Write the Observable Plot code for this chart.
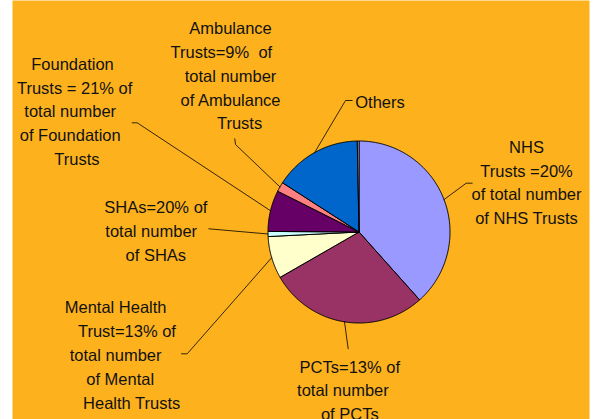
<!DOCTYPE html>
<html><head><meta charset="utf-8">
<script src="https://cdn.jsdelivr.net/npm/d3@7"></script>
<script src="https://cdn.jsdelivr.net/npm/@observablehq/plot@0.6"></script>
<style>
html,body{margin:0;padding:0;background:#fff;}
svg text{white-space:pre;}
</style></head><body><div id="chart"></div>
<script>
// ---- data ----
const categories = ["NHS Trusts","PCTs","Mental Health Trusts","SHAs","Foundation Trusts","Ambulance Trusts","Others","Other (small)"];
const shares = [38.4, 28.3, 7.5, 0.9, 7.3, 1.7, 15.6, 0.3];
const sliceColors = ["#9999FF","#993366","#FFFFCC","#CCFFFF","#660066","#FF8080","#0066CC","#CCCCFF"];
const labelTexts = [
  "NHS\nTrusts =20%\nof total number\nof NHS Trusts",
  " PCTs=13% of\ntotal number  \n of PCTs",
  "Mental Health   \n  Trust=13% of\ntotal number   \nof Mental \n    Health Trusts",
  " SHAs=20% of\ntotal number \n of SHAs",
  "Foundation\n Trusts = 21% of\ntotal number \nof Foundation \n  Trusts",
  "Ambulance\nTrusts=9%  of    \ntotal number\nof Ambulance\n    Trusts",
  "Others",
  null
];

// ---- layout (chart units) ----
const W = 598, H = 419;
const center = [358.5, 231.5], radius = 91;
const labelLayout = {
  "NHS Trusts":           {at:[526,180.5],  path:[[465.7,182.7],[471.7,182.7]]},
  "PCTs":                 {at:[347,388.3],  path:[[347.7,348.3]]},
  "Mental Health Trusts": {at:[122,352.9],  path:[[186.7,353.3],[181,353.3]]},
  "SHAs":                 {at:[153,229],    path:[[208.3,228.3]]},
  "Foundation Trusts":    {at:[72,109.2],   path:[[136.7,122.3],[131.7,122.3]]},
  "Ambulance Trusts":     {at:[230,73.8],   path:[[235,144],[234.3,138.3]]},
  "Others":               {at:[379.5,100],  path:[[345,100],[351.7,100]]}
};

const arcs = d3.pie().sort(null).value(d => d)(shares);
const pt = (a, r) => [center[0] + r * Math.sin(a), center[1] - r * Math.cos(a)];

const slicePts = [];
const leaderPts = [];
const labelRows = [];
arcs.forEach((a, i) => {
  const cat = categories[i];
  slicePts.push({cat, x: center[0], y: center[1]});
  const n = Math.max(2, Math.ceil((a.endAngle - a.startAngle) / (Math.PI / 360)));
  for (let k = 0; k <= n; k++) {
    const t = a.startAngle + (a.endAngle - a.startAngle) * k / n;
    const [x, y] = pt(t, radius);
    slicePts.push({cat, x, y});
  }
  slicePts.push({cat, x: center[0], y: center[1]});
  const lay = labelLayout[cat];
  if (lay && labelTexts[i]) {
    const [ex, ey] = pt((a.startAngle + a.endAngle) / 2, radius);
    leaderPts.push({cat, x: ex, y: ey});
    lay.path.forEach(([x, y]) => leaderPts.push({cat, x, y}));
    labelRows.push({cat, x: lay.at[0], y: lay.at[1], text: labelTexts[i]});
  }
});

const chart = Plot.plot({
  width: W, height: H,
  marginLeft: 12, marginRight: 9, marginTop: 0, marginBottom: 0,
  x: {domain: [12, 589], axis: null},
  y: {domain: [0, 419], reverse: true, axis: null},
  color: {domain: categories, range: sliceColors},
  style: {background: "transparent", fontFamily: "'Liberation Sans', Arial, sans-serif"},
  marks: [
    Plot.frame({fill: "#FDB21D", stroke: "none"}),
    Plot.line(slicePts, {x: "x", y: "y", z: "cat", fill: "cat", stroke: "black", strokeWidth: 1, strokeLinejoin: "round"}),
    Plot.line(leaderPts, {x: "x", y: "y", z: "cat", stroke: "black", strokeWidth: 0.8}),
    Plot.text(labelRows, {x: "x", y: "y", text: "text", fontSize: 16.5, lineHeight: 1.44, lineAnchor: "middle", textAnchor: "middle", fill: "#111"})
  ]
});
document.getElementById("chart").appendChild(chart);
</script></body></html>
